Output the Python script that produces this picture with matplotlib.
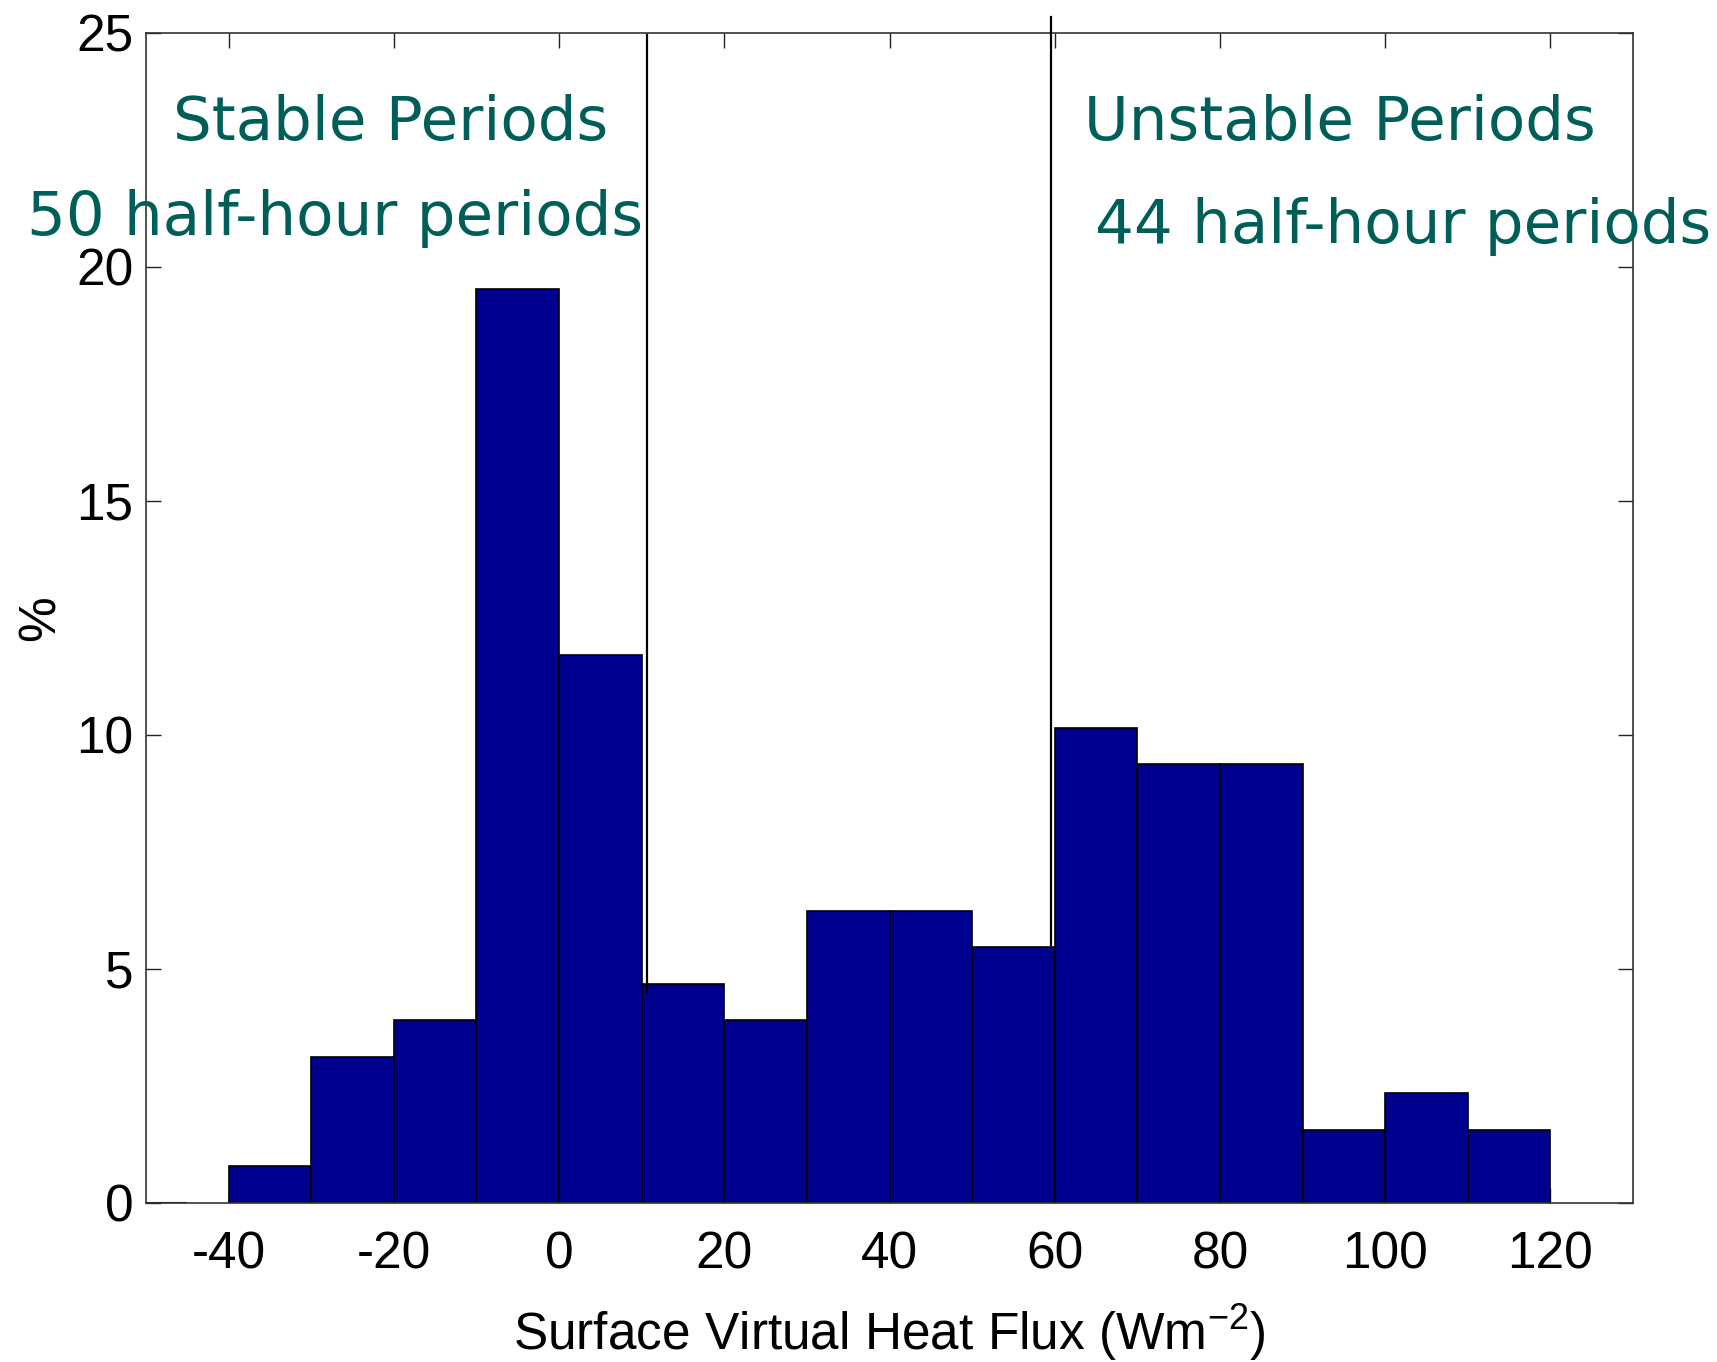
import matplotlib
matplotlib.use("Agg")
import matplotlib.pyplot as plt

# Histogram of surface virtual heat flux (percent of 128 half-hour periods)
bin_left = [-40, -30, -20, -10, 0, 10, 20, 30, 40, 50, 60, 70, 80, 90, 100, 110]
percent = [0.78, 3.13, 3.91, 19.53, 11.72, 4.69, 3.91, 6.25, 6.25, 5.47,
           10.16, 9.38, 9.38, 1.56, 2.34, 1.56]
bin_width = 10

# Thresholds separating stable and unstable regimes: (x, y_bottom, y_top)
stable_cut = (10.65, 4.49, 24.96)
unstable_cut = (59.5, 5.51, 25.35)

x_ticks = [-40, -20, 0, 20, 40, 60, 80, 100, 120]
y_ticks = [0, 5, 10, 15, 20, 25]

W, H = 1717, 1362
fig = plt.figure(figsize=(W / 100, H / 100), dpi=100)
ax = fig.add_axes([146 / W, 1 - 1203 / H, (1633 - 146) / W, (1203 - 33) / H])

bar_color = "#00008F"
ax.bar(bin_left, percent, width=bin_width, align="edge", color=bar_color,
       edgecolor="black", linewidth=1.2, zorder=2)
# empty bin at the left edge of the range
ax.bar([-50], [0], width=bin_width, align="center", color=bar_color,
       edgecolor="black", linewidth=1.5, zorder=2)

for xc, y0, y1 in (stable_cut, unstable_cut):
    ax.plot([xc, xc], [y0, y1], color="black", lw=1.6, clip_on=False, zorder=4)

ax.set_xlim(-50, 130)
ax.set_ylim(0, 25)
ax.set_xticks(x_ticks)
ax.set_yticks(y_ticks)
ax.set_xticklabels([str(v) for v in x_ticks])
ax.set_yticklabels([str(v) for v in y_ticks])

tick_font = dict(family="Liberation Sans", size=37)
for lab in ax.get_xticklabels() + ax.get_yticklabels():
    lab.set_fontfamily("Liberation Sans")
    lab.set_fontsize(37)

ax.tick_params(axis="both", direction="in", length=10.5, width=1.0,
               top=True, right=True, color="#222222")
ax.tick_params(axis="x", pad=20)
ax.tick_params(axis="y", pad=9)
for sp in ax.spines.values():
    sp.set_color("#333333")
    sp.set_linewidth(1.2)

ax.set_xlabel("Surface Virtual Heat Flux (Wm$^{\\mathregular{-2}}$)",
              fontdict=tick_font, labelpad=16)
ax.set_ylabel("%", fontdict=tick_font, labelpad=8)

note_color = "#005E58"
note_font = dict(family="DejaVu Sans", size=44, color=note_color)
fig.text(173 / W, 1 - 140 / H, "Stable Periods", ha="left", va="baseline", **note_font)
fig.text(27 / W, 1 - 235 / H, "50 half-hour periods", ha="left", va="baseline", **note_font)
fig.text(1084 / W, 1 - 140 / H, "Unstable Periods", ha="left", va="baseline", **note_font)
fig.text(1095 / W, 1 - 243 / H, "44 half-hour periods", ha="left", va="baseline", **note_font)

fig.savefig("out.png", dpi=100, facecolor="white")
